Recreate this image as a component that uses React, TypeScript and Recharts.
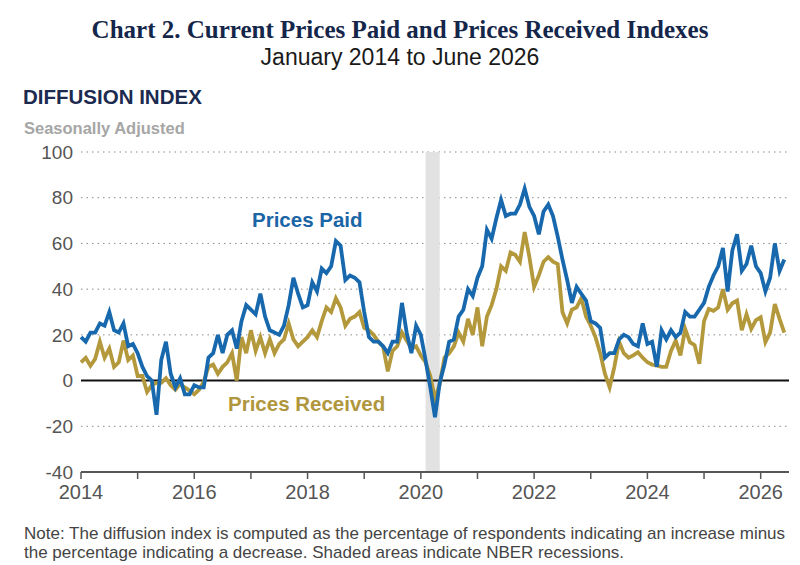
import { CartesianGrid, Line, LineChart, ReferenceArea, ReferenceLine, XAxis, YAxis } from "recharts";

const startYear = 2014;

// monthly readings, Jan 2014 .. Jun 2026
const pricesPaid = [
  19, 17, 21, 21, 25, 24, 30, 22, 21, 25,
  15, 16, 12, 6, 2, 0, -15, 9, 17, 3,
  -3, 1, -6, -6, -2, -3, -3, 10, 12, 20,
  12, 20, 22, 14, 26, 33, 31, 29, 38, 28,
  22, 21, 20, 24, 33, 45, 38, 32, 33, 43,
  39, 49, 47, 50, 61, 59, 44, 46, 45, 43,
  30, 19, 17, 17, 15, 12, 17, 17, 34, 21,
  12, 24, 20, 9, -3, -16, -1, 7, 17, 18,
  28, 31, 40, 37, 45, 50, 66, 62, 71, 79,
  72, 73, 73, 77, 84, 76, 72, 64, 74, 77,
  72, 63, 53, 44, 34, 41, 38, 35, 26, 25,
  23, 10, 12, 12, 18, 20, 19, 16, 15, 25,
  16, 17, 6, 22, 18, 22, 19, 21, 30, 28,
  28, 31, 34, 41, 46, 50, 58, 39, 57, 64,
  48, 51, 59, 50, 47, 39, 45, 60, 48, 53,
];

const pricesReceived = [
  8, 10, 6.5, 9.5, 17, 10, 14, 6, 8, 17.5,
  9, 11, 2, 2, -5, -2, -1, -1, 1, -2,
  -4, -1.5, -3, -4.4, -6, -4, -0.5, 6, 7, 3,
  6, 8, 12, 0, 19, 12, 22, 13, 19, 12,
  18, 12, 16, 18, 25, 18, 15, 17, 19, 22,
  19, 26, 32, 30, 36, 32, 24, 27, 28, 30,
  23, 22, 20, 17, 15, 4, 13, 15, 21, 17.5,
  14, 15, 11, 8, 2, -8, -1.5, 10, 12, 15,
  21, 17, 27, 20, 32, 15, 28, 33, 40, 50,
  48, 56, 55, 52, 65, 54, 41, 46, 52, 54,
  52, 51, 30, 25, 31, 32, 36, 28, 24, 19,
  12, 3, -3, 6, 17, 12, 10, 11, 12.4, 10,
  8, 7, 6.6, 6, 6, 13, 17.5, 11, 22.6, 16.8,
  15.5, 7.3, 26, 31.3, 30.5, 32, 40, 31, 33.8, 35,
  22, 29, 22.6, 26.5, 27.7, 16.8, 21, 33.5, 27, 21,
];

const years = [2014, 2015, 2016, 2017, 2018, 2019, 2020, 2021, 2022, 2023, 2024, 2025, 2026];
const valueTicks = [-40, -20, 0, 20, 40, 60, 80, 100];
const recession = { start: "2020-02", end: "2020-05" };

const monthIndex = (ym: string) => {
  const [y, m] = ym.split("-").map(Number);
  return (y - startYear) * 12 + (m - 1);
};

const data = pricesPaid.map((paid, i) => ({ month: i, paid, received: pricesReceived[i] }));

const sans = '"Liberation Sans", Arial, sans-serif';

export default function App() {
  return (
    <div style={{ position: "absolute", left: 0, top: 0, width: 800, height: 565, background: "#fff", fontFamily: sans }}>
      <div style={{ position: "absolute", top: 17, width: 800, textAlign: "center", fontFamily: '"Liberation Serif", "Times New Roman", serif', fontWeight: 700, fontSize: 25, lineHeight: "25px", color: "#14264a", whiteSpace: "nowrap" }}>
        Chart 2. Current Prices Paid and Prices Received Indexes
      </div>
      <div style={{ position: "absolute", top: 46, width: 800, textAlign: "center", fontSize: 23, lineHeight: "23px", color: "#1a1a1a" }}>
        January 2014 to June 2026
      </div>
      <div style={{ position: "absolute", left: 23, top: 87, fontSize: 20.5, lineHeight: "20.5px", fontWeight: 700, color: "#1b2a4e" }}>
        DIFFUSION INDEX
      </div>
      <div style={{ position: "absolute", left: 24, top: 120, fontSize: 16.5, lineHeight: "16.5px", fontWeight: 700, color: "#a6a6a6" }}>
        Seasonally Adjusted
      </div>

      <LineChart width={800} height={565} data={data} margin={{ top: 152, right: 11, bottom: 63, left: 0 }} style={{ position: "absolute", left: 0, top: 0 }}>
        <ReferenceArea x1={monthIndex(recession.start)} x2={monthIndex(recession.end)} fill="#e2e2e2" fillOpacity={1} stroke="none" ifOverflow="visible" />
        <CartesianGrid vertical={false} stroke="#8a8a8a" strokeDasharray="1.5 4" />
        <XAxis
          type="number"
          dataKey="month"
          domain={[0, 150]}
          ticks={years.map((_, i) => i * 12)}
          tickFormatter={(v: number) => {
            const y = startYear + Math.round(v / 12);
            return y % 2 === 0 ? String(y) : "";
          }}
          interval={0}
          height={30}
          tick={{ fill: "#555", fontSize: 20 }}
          tickSize={7}
          tickMargin={6}
          axisLine={{ stroke: "#555", strokeWidth: 2 }}
          tickLine={{ stroke: "#555", strokeWidth: 1.5 }}
        />
        <YAxis
          type="number"
          domain={[-40, 100]}
          ticks={valueTicks}
          interval={0}
          width={81}
          axisLine={false}
          tickLine={false}
          tick={{ fill: "#555", fontSize: 19 }}
        />
        <ReferenceLine y={0} stroke="#111" strokeWidth={2} />
        <Line type="linear" dataKey="received" stroke="#b4993c" strokeWidth={3.8} dot={false} isAnimationActive={false} />
        <Line type="linear" dataKey="paid" stroke="#1768ad" strokeWidth={3.8} dot={false} isAnimationActive={false} />
      </LineChart>

      <div style={{ position: "absolute", left: 252, top: 210, fontSize: 20.5, lineHeight: "20.5px", fontWeight: 700, color: "#1a65a6" }}>
        Prices Paid
      </div>
      <div style={{ position: "absolute", left: 228, top: 394, fontSize: 20.5, lineHeight: "20.5px", fontWeight: 700, color: "#b0963c" }}>
        Prices Received
      </div>

      <div style={{ position: "absolute", left: 24, top: 524, fontSize: 17, lineHeight: "19px", color: "#444", whiteSpace: "nowrap" }}>
        Note: The diffusion index is computed as the percentage of respondents indicating an increase minus
        <br />
        the percentage indicating a decrease. Shaded areas indicate NBER recessions.
      </div>
    </div>
  );
}
